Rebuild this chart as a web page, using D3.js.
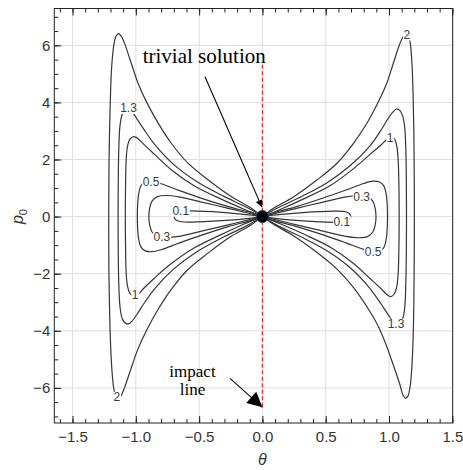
<!DOCTYPE html>
<html>
<head>
<meta charset="utf-8">
<script src="https://cdn.jsdelivr.net/npm/d3@7"></script>
<style>
  html, body { margin: 0; padding: 0; background: #fff; }
  svg { display: block; }
</style>
</head>
<body>
<svg id="chart" width="463" height="470"></svg>
<script>
// ---- contour levels and their labels ----
const levels = ["0.1", "0.3", "0.5", "1", "1.3", "2"];

// Each loop runs from the origin, around its lobe, and back to the origin: [theta, p0]
const level2Left = [[0,0],[-0.09,0.30],[-0.25,0.71],[-0.43,1.29],[-0.59,1.88],[-0.72,2.57],[-0.82,3.25],[-0.915,4.01],[-0.983,4.68],[-1.037,5.38],[-1.088,6.06],[-1.118,6.34],[-1.138,6.41],[-1.158,6.3],[-1.174,6.0],[-1.19,5.3],[-1.2,4.3],[-1.207,3.1],[-1.212,1.8],[-1.214,0],[-1.213,-1.8],[-1.208,-3.1],[-1.201,-4.3],[-1.19,-5.3],[-1.175,-6.0],[-1.158,-6.3],[-1.14,-6.38],[-1.12,-6.3],[-1.09,-6.0],[-1.04,-5.35],[-0.985,-4.66],[-0.915,-3.98],[-0.82,-3.22],[-0.72,-2.55],[-0.59,-1.86],[-0.43,-1.28],[-0.25,-0.70],[-0.09,-0.29],[0,0]];
const level2Right = [[0,0],[0.087,0.29],[0.245,0.69],[0.43,1.28],[0.587,1.86],[0.718,2.56],[0.824,3.26],[0.916,4.02],[0.982,4.67],[1.034,5.37],[1.087,6.07],[1.118,6.35],[1.138,6.4],[1.156,6.3],[1.17,6.0],[1.182,5.3],[1.19,4.3],[1.196,3.0],[1.199,1.5],[1.2,0],[1.199,-1.5],[1.196,-3.0],[1.19,-4.3],[1.18,-5.3],[1.165,-6.0],[1.148,-6.3],[1.13,-6.36],[1.11,-6.25],[1.087,-5.9],[1.034,-5.2],[0.982,-4.55],[0.916,-3.85],[0.824,-3.15],[0.718,-2.48],[0.587,-1.83],[0.429,-1.25],[0.245,-0.67],[0.087,-0.27],[0,0]];

const level13Left = [[0,0],[-0.11,0.29],[-0.30,0.70],[-0.51,1.20],[-0.70,1.82],[-0.85,2.52],[-0.94,3.08],[-0.995,3.45],[-1.035,3.70],[-1.06,3.79],[-1.088,3.74],[-1.11,3.55],[-1.126,3.15],[-1.135,2.3],[-1.139,1.1],[-1.14,0],[-1.139,-1.1],[-1.135,-2.3],[-1.124,-3.2],[-1.105,-3.6],[-1.08,-3.74],[-1.055,-3.75],[-1.03,-3.66],[-0.99,-3.42],[-0.94,-3.07],[-0.85,-2.52],[-0.70,-1.83],[-0.51,-1.21],[-0.30,-0.70],[-0.11,-0.29],[0,0]];
const level13Right = [[0,0],[0.114,0.29],[0.298,0.68],[0.508,1.18],[0.692,1.78],[0.85,2.48],[0.94,3.05],[0.99,3.42],[1.03,3.66],[1.058,3.76],[1.085,3.72],[1.108,3.52],[1.124,3.12],[1.133,2.3],[1.137,1.1],[1.138,0],[1.137,-1.1],[1.133,-2.3],[1.125,-3.15],[1.11,-3.55],[1.085,-3.74],[1.057,-3.79],[1.035,-3.7],[0.995,-3.45],[0.94,-3.08],[0.85,-2.52],[0.70,-1.82],[0.51,-1.2],[0.30,-0.7],[0.11,-0.29],[0,0]];

const level1Left = [[0,0],[-0.14,0.25],[-0.33,0.62],[-0.54,1.08],[-0.72,1.64],[-0.85,2.17],[-0.935,2.52],[-0.985,2.74],[-1.015,2.80],[-1.045,2.72],[-1.065,2.48],[-1.076,2.0],[-1.081,1.1],[-1.083,0],[-1.081,-1.1],[-1.076,-2.0],[-1.065,-2.45],[-1.045,-2.7],[-1.015,-2.79],[-0.985,-2.74],[-0.935,-2.5],[-0.85,-2.14],[-0.742,-1.72],[-0.54,-1.1],[-0.33,-0.64],[-0.14,-0.25],[0,0]];
const level1Right = [[0,0],[0.14,0.25],[0.33,0.63],[0.54,1.1],[0.72,1.68],[0.85,2.18],[0.935,2.5],[0.985,2.72],[1.01,2.79],[1.04,2.74],[1.06,2.5],[1.072,2.0],[1.078,1.1],[1.08,0],[1.078,-1.1],[1.072,-2.0],[1.06,-2.48],[1.04,-2.72],[1.015,-2.80],[0.985,-2.74],[0.935,-2.52],[0.85,-2.17],[0.72,-1.64],[0.54,-1.08],[0.33,-0.62],[0.14,-0.25],[0,0]];

const level05Left = [[0,0],[-0.085,0.13],[-0.27,0.35],[-0.48,0.64],[-0.66,0.92],[-0.80,1.15],[-0.875,1.23],[-0.925,1.21],[-0.96,1.08],[-0.978,0.78],[-0.986,0.38],[-0.988,0],[-0.986,-0.38],[-0.978,-0.78],[-0.96,-1.06],[-0.925,-1.2],[-0.875,-1.23],[-0.80,-1.16],[-0.66,-0.93],[-0.48,-0.65],[-0.27,-0.35],[-0.085,-0.13],[0,0]];
const level05Right = [[0,0],[0.085,0.13],[0.27,0.35],[0.48,0.65],[0.66,0.93],[0.80,1.16],[0.875,1.24],[0.925,1.21],[0.96,1.07],[0.978,0.78],[0.986,0.38],[0.988,0],[0.986,-0.38],[0.978,-0.78],[0.96,-1.08],[0.925,-1.21],[0.875,-1.24],[0.80,-1.15],[0.66,-0.92],[0.48,-0.64],[0.27,-0.35],[0.085,-0.13],[0,0]];

const level03Left = [[0,0],[-0.085,0.09],[-0.27,0.29],[-0.48,0.51],[-0.66,0.69],[-0.76,0.74],[-0.83,0.70],[-0.872,0.54],[-0.891,0.29],[-0.897,0],[-0.891,-0.29],[-0.872,-0.54],[-0.83,-0.69],[-0.76,-0.73],[-0.66,-0.69],[-0.48,-0.51],[-0.27,-0.29],[-0.085,-0.09],[0,0]];
const level03Right = [[0,0],[0.085,0.09],[0.27,0.29],[0.48,0.51],[0.66,0.69],[0.76,0.73],[0.83,0.69],[0.872,0.54],[0.891,0.29],[0.897,0],[0.891,-0.29],[0.872,-0.54],[0.83,-0.70],[0.76,-0.74],[0.66,-0.69],[0.48,-0.51],[0.27,-0.29],[0.085,-0.09],[0,0]];

const level01Left = [[0,0],[-0.085,0.05],[-0.32,0.15],[-0.56,0.20],[-0.64,0.19],[-0.68,0.13],[-0.697,0.04],[-0.695,-0.05],[-0.68,-0.13],[-0.64,-0.18],[-0.56,-0.19],[-0.32,-0.14],[-0.085,-0.05],[0,0]];
const level01Right = [[0,0],[0.085,0.05],[0.32,0.14],[0.56,0.19],[0.64,0.18],[0.68,0.13],[0.695,0.05],[0.697,-0.04],[0.68,-0.13],[0.64,-0.19],[0.56,-0.20],[0.32,-0.15],[0.085,-0.05],[0,0]];

// label anchor per loop, in the same order as `levels`
const labelLeft  = [[-0.645, 0.19], [-0.794, -0.71], [-0.88, 1.22], [-1.005, -2.76], [-1.058, 3.79], [-1.15, -6.33]];
const labelRight = [[0.627, -0.18], [0.784, 0.70], [0.874, -1.24], [1.008, 2.77], [1.055, -3.77], [1.14, 6.36]];

const loopsLeft  = [level01Left, level03Left, level05Left, level1Left, level13Left, level2Left];
const loopsRight = [level01Right, level03Right, level05Right, level1Right, level13Right, level2Right];

// axis ticks
const xMajor = [-1.5, -1.0, -0.5, 0.0, 0.5, 1.0, 1.5];
const yMajor = [-6, -4, -2, 0, 2, 4, 6];
const xMinor = d3.range(-16, 16).map(i => i / 10);
const yMinor = d3.range(-14, 15).map(i => i / 2);

// ---- layout ----
const svg = d3.select("#chart");
const plotL = 54.3, plotR = 452.7, plotT = 8.5, plotB = 423;
const x = d3.scaleLinear().domain([-1.644, 1.503]).range([plotL, plotR]);
const y = d3.scaleLinear().domain([-7.23, 7.29]).range([plotB, plotT]);

// grid
const grid = svg.append("g").attr("stroke", "#dedede").attr("stroke-width", 1);
grid.selectAll("line.gx").data(xMajor).join("line")
  .attr("x1", d => x(d)).attr("x2", d => x(d)).attr("y1", plotT).attr("y2", plotB);
grid.selectAll("line.gy").data(yMajor).join("line")
  .attr("y1", d => y(d)).attr("y2", d => y(d)).attr("x1", plotL).attr("x2", plotR);

// contours
const line = d3.line().x(d => x(d[0])).y(d => y(d[1])).curve(d3.curveCatmullRom.alpha(0.5));
const cg = svg.append("g").attr("fill", "none").attr("stroke", "#363636").attr("stroke-width", 1.2);
cg.selectAll("path.l").data(loopsLeft).join("path").attr("d", line);
cg.selectAll("path.r").data(loopsRight).join("path").attr("d", line);

// contour labels, each over a white patch that breaks its line
const lg = svg.append("g");
function addLabel(pos, txt) {
  const g = lg.append("g");
  const r = g.append("rect").attr("fill", "#fff");
  const t = g.append("text")
    .attr("x", x(pos[0])).attr("y", y(pos[1]))
    .attr("text-anchor", "middle").attr("dominant-baseline", "central")
    .attr("font-family", "'Liberation Sans', Arial, sans-serif")
    .attr("font-size", 12).attr("fill", "#3a3a3a").text(txt);
  const b = t.node().getBBox();
  r.attr("x", b.x - 0.5).attr("y", b.y + 1.5).attr("width", b.width + 1).attr("height", b.height - 3);
}
levels.forEach((lv, i) => { addLabel(labelLeft[i], lv); addLabel(labelRight[i], lv); });

// impact line at theta = 0
svg.append("line")
  .attr("x1", x(0)).attr("x2", x(0)).attr("y1", y(5.32)).attr("y2", y(-6.68))
  .attr("stroke", "#ee2d2d").attr("stroke-width", 1.3).attr("stroke-dasharray", "4,2.5");

// frame
svg.append("rect").attr("x", plotL).attr("y", plotT).attr("width", plotR - plotL).attr("height", plotB - plotT)
  .attr("fill", "none").attr("stroke", "#222").attr("stroke-width", 1);

// axes with inward ticks
const tickFont = "'Liberation Sans', Arial, sans-serif";
function styleAxis(g) {
  g.select(".domain").remove();
  g.selectAll(".tick line").attr("stroke", "#222");
  g.selectAll(".tick text").attr("fill", "#333").attr("font-family", tickFont).attr("font-size", 15);
}
svg.append("g").attr("transform", `translate(0,${plotB})`)
  .call(d3.axisBottom(x).tickValues(xMinor).tickSize(-4).tickFormat("")).call(styleAxis);
svg.append("g").attr("transform", `translate(0,${plotB})`)
  .call(d3.axisBottom(x).tickValues(xMajor).tickSize(-7).tickPadding(8).tickFormat(d3.format(".1f"))).call(styleAxis);
svg.append("g").attr("transform", `translate(0,${plotT})`)
  .call(d3.axisTop(x).tickValues(xMinor).tickSize(-4).tickFormat("")).call(styleAxis);
svg.append("g").attr("transform", `translate(0,${plotT})`)
  .call(d3.axisTop(x).tickValues(xMajor).tickSize(-7).tickFormat("")).call(styleAxis);
svg.append("g").attr("transform", `translate(${plotL},0)`)
  .call(d3.axisLeft(y).tickValues(yMinor).tickSize(-4).tickFormat("")).call(styleAxis);
svg.append("g").attr("transform", `translate(${plotL},0)`)
  .call(d3.axisLeft(y).tickValues(yMajor).tickSize(-7).tickPadding(4).tickFormat(d3.format("d"))).call(styleAxis);

// axis titles
svg.append("text").attr("x", x(0)).attr("y", 465)
  .attr("text-anchor", "middle").attr("font-family", tickFont).attr("font-style", "italic")
  .attr("font-size", 16).attr("fill", "#333").text("θ");
const yt = svg.append("text").attr("transform", `translate(23,${y(0)}) rotate(-90)`)
  .attr("text-anchor", "middle").attr("font-family", tickFont).attr("font-size", 16).attr("fill", "#333");
yt.append("tspan").attr("font-style", "italic").text("p");
yt.append("tspan").attr("font-size", 11).attr("dy", 4).text("0");

// annotations
const serif = "'Liberation Serif', 'Times New Roman', serif";
const defs = svg.append("defs");
defs.append("marker").attr("id", "headSmall").attr("viewBox", "0 0 10 10").attr("refX", 10).attr("refY", 5)
  .attr("markerUnits", "userSpaceOnUse").attr("markerWidth", 9).attr("markerHeight", 7).attr("orient", "auto")
  .append("path").attr("d", "M0,0L10,5L0,10Z").attr("fill", "#000");
defs.append("marker").attr("id", "headBig").attr("viewBox", "0 0 10 10").attr("refX", 10).attr("refY", 5)
  .attr("markerUnits", "userSpaceOnUse").attr("markerWidth", 16).attr("markerHeight", 15).attr("orient", "auto")
  .append("path").attr("d", "M0,0L10,5L0,10Z").attr("fill", "#000");

svg.append("text").attr("x", 142.7).attr("y", 63.3)
  .attr("font-family", serif).attr("font-size", 21).attr("fill", "#000").text("trivial solution");
svg.append("line").attr("x1", 205).attr("y1", 76.7).attr("x2", x(0) - 0.5).attr("y2", y(0) - 9.5)
  .attr("stroke", "#000").attr("stroke-width", 1.1).attr("marker-end", "url(#headSmall)");

const imp = svg.append("text").attr("font-family", serif).attr("font-size", 17).attr("fill", "#000")
  .attr("text-anchor", "middle");
imp.append("tspan").attr("x", 192.5).attr("y", 376.7).text("impact");
imp.append("tspan").attr("x", 192.5).attr("y", 395).text("line");
svg.append("line").attr("x1", 230).attr("y1", 378.3).attr("x2", x(0)).attr("y2", y(-6.68))
  .attr("stroke", "#000").attr("stroke-width", 1.1).attr("marker-end", "url(#headBig)");

// trivial solution point
svg.append("circle").attr("cx", x(0)).attr("cy", y(0)).attr("r", 6)
  .attr("fill", "#000").attr("stroke", "#1d3a66").attr("stroke-width", 1);
</script>
</body>
</html>
